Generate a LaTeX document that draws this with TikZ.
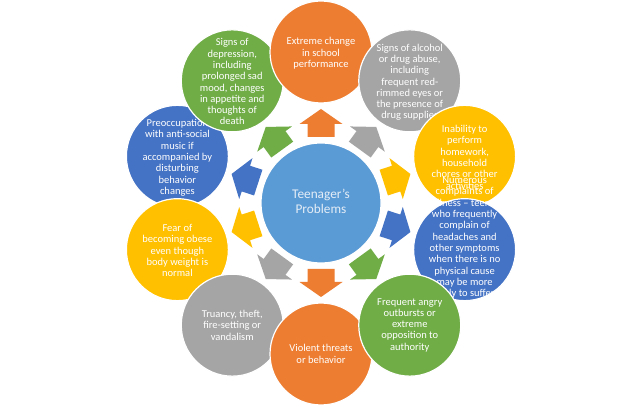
\documentclass[tikz,border=0pt]{standalone}
\usepackage{fontspec}
\setmainfont{Carlito}
\definecolor{cOrange}{HTML}{ED7D31}
\definecolor{cGray}{HTML}{A5A5A5}
\definecolor{cYellow}{HTML}{FFC000}
\definecolor{cBlue}{HTML}{4472C4}
\definecolor{cGreen}{HTML}{70AD47}
\definecolor{cCenter}{HTML}{5B9BD5}
\definecolor{cCenterText}{HTML}{E4EDF7}
\tikzset{
  outer/.style={circle, draw=white, line width=1.2pt, minimum size=102pt, inner sep=0pt},
  hub/.style={circle, draw=white, line width=1.2pt, minimum size=120pt, inner sep=0pt, fill=cCenter},
  txt/.style={text=white, align=center, inner sep=0pt, font=\fontsize{10.5}{11.3}\selectfont},
  hubtxt/.style={text=cCenterText, align=center, inner sep=0pt, font=\fontsize{13.3}{14.7}\selectfont},
}
\begin{document}
\begin{tikzpicture}[x=1pt,y=1pt]
\path[use as bounding box] (0,0) rectangle (639,404);
\clip (0,0) rectangle (639,404);
\fill[white] (0,0) rectangle (639,404);

\node[hub] (ctr) at (321,201) {};
\node[hubtxt] (ctrt) at ([shift={(0,1.5)}]ctr) {Teenager's\\Problems};

% block arrows
\foreach \ang/\col in {90/cOrange, 54/cGray, 18/cYellow, -18/cBlue, -54/cGreen, -90/cOrange, -126/cGray, -162/cYellow, 162/cBlue, 126/cGreen}{
  \begin{scope}[shift={(ctr)}, rotate=\ang]
    \fill[\col] (66,-13.5) -- (79,-13.5) -- (79,-21.5) -- (94,0) -- (79,21.5) -- (79,13.5) -- (66,13.5) -- cycle;
  \end{scope}
}

% outer circles, in stacking order
\node[outer, fill=cBlue] (c8) at ([shift={(162:151)}]ctr) {};
\node[txt] (t8) at ([shift={(0,-1.5)}]c8) {Preoccupation\\with anti-social\\music if\\accompanied by\\disturbing\\behavior\\changes};

\node[outer, fill=cGreen] (c9) at ([shift={(126:151)}]ctr) {};
\node[txt] (t9) at ([shift={(0,-1)}]c9) {Signs of\\depression,\\including\\prolonged sad\\mood, changes\\in appetite and\\thoughts of\\death};

\node[outer, fill=cOrange] (c0) at ([shift={(90:151)}]ctr) {};
\node[txt] (t0) at ([shift={(0,-1.5)}]c0) {Extreme change\\in school\\performance};

\node[outer, fill=cGray] (c1) at ([shift={(54:151)}]ctr) {};
\node[txt] (t1) at ([shift={(0,-1.5)}]c1) {Signs of alcohol\\or drug abuse,\\including\\frequent red-\\rimmed eyes or\\the presence of\\drug supplies};

\node[outer, fill=cYellow] (c2) at ([shift={(18:151)}]ctr) {};
\node[txt] (t2) at ([shift={(0,-1)}]c2) {Inability to\\perform\\homework,\\household\\chores or other\\activities};

\node[outer, fill=cBlue] (c3) at ([shift={(-18:151)}]ctr) {};
\node[txt] (t3) at ([shift={(0,12)}]c3) {Numerous\\complaints of\\illness -- teens\\who frequently\\complain of\\headaches and\\other symptoms\\when there is no\\physical cause\\may be more\\likely to suffer};

\node[outer, fill=cYellow] (c7) at ([shift={(-162:151)}]ctr) {};
\node[txt] (t7) at ([shift={(0,-1)}]c7) {Fear of\\becoming obese\\even though\\body weight is\\normal};

\node[outer, fill=cGray] (c6) at ([shift={(-126:151)}]ctr) {};
\node[txt] (t6) at ([shift={(0,0)}]c6) {Truancy, theft,\\fire-setting or\\vandalism};

\node[outer, fill=cOrange] (c5) at ([shift={(-90:151)}]ctr) {};
\node[txt] (t5) at ([shift={(0,0)}]c5) {Violent threats\\or behavior};

\node[outer, fill=cGreen] (c4) at ([shift={(-54:151)}]ctr) {};
\node[txt] (t4) at ([shift={(0,0)}]c4) {Frequent angry\\outbursts or\\extreme\\opposition to\\authority};
\end{tikzpicture}
\end{document}
